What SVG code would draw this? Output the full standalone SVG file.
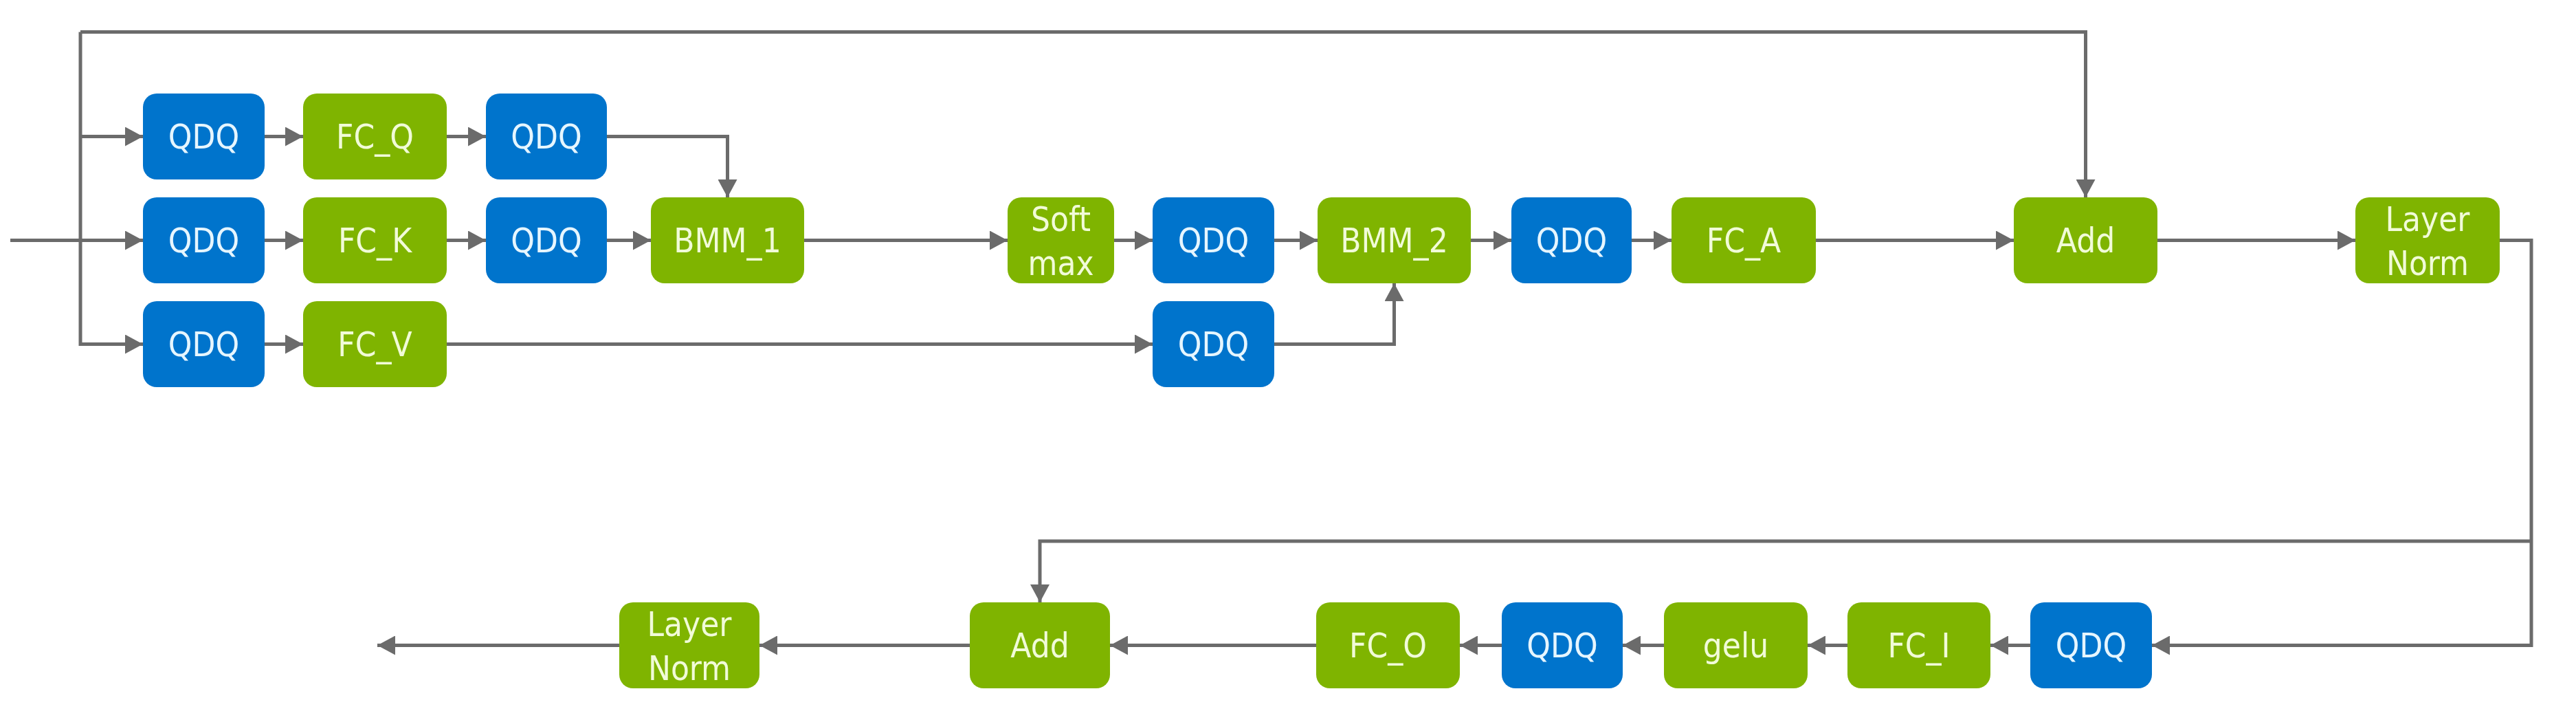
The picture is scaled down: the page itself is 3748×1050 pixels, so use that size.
<svg xmlns="http://www.w3.org/2000/svg" width="3748" height="1050" viewBox="0 0 3748 1050">
<style>
.g{fill:#7fb400}
.b{fill:#0074cc}
.t{font-family:"DejaVu Sans","Liberation Sans",sans-serif;font-size:49px;font-stretch:condensed;text-anchor:middle}
.tg{fill:#f1fbd8}
.tb{fill:#e6f6ff}
.c{fill:none;stroke:#6b6b6b;stroke-width:5}
.a{marker-end:url(#arr)}
</style>
<defs>
<marker id="arr" markerUnits="userSpaceOnUse" markerWidth="26" markerHeight="28" refX="26" refY="14" orient="auto">
<path d="M0,0 L26,14 L0,28 Z" fill="#6b6b6b"/>
</marker>
</defs>
<rect width="3748" height="1050" fill="#ffffff"/>
<g id="connectors">
<path class="c a" d="M117,46.5 H3034.5 V287"/>
<path class="c a" d="M117,46.5 V500.5 H208"/>
<path class="c a" d="M117,198.5 H208"/>
<path class="c a" d="M15,349.5 H208"/>
<path class="c a" d="M385,198.5 H441"/>
<path class="c a" d="M650,198.5 H707"/>
<path class="c a" d="M883,198.5 H1058.5 V287"/>
<path class="c a" d="M385,349.5 H441"/>
<path class="c a" d="M650,349.5 H707"/>
<path class="c a" d="M883,349.5 H947"/>
<path class="c a" d="M385,500.5 H441"/>
<path class="c a" d="M650,500.5 H1677"/>
<path class="c a" d="M1170,349.5 H1466"/>
<path class="c a" d="M1621,349.5 H1677"/>
<path class="c a" d="M1854,349.5 H1917"/>
<path class="c a" d="M1854,500.5 H2028.5 V412"/>
<path class="c a" d="M2140,349.5 H2199"/>
<path class="c a" d="M2374,349.5 H2432"/>
<path class="c a" d="M2642,349.5 H2930"/>
<path class="c a" d="M3139,349.5 H3427"/>
<path class="c a" d="M3637,349.5 H3683 V938.5 H3131"/>
<path class="c a" d="M3683,787 H1513 V876"/>
<path class="c a" d="M2954,938.5 H2896"/>
<path class="c a" d="M2688,938.5 H2630"/>
<path class="c a" d="M2421,938.5 H2361"/>
<path class="c a" d="M2185,938.5 H2124"/>
<path class="c a" d="M1915,938.5 H1615"/>
<path class="c a" d="M1411,938.5 H1105"/>
<path class="c a" d="M901,938.5 H549"/>
</g>
<g id="qdq_q_in"><rect class="b" x="208" y="136" width="177" height="125" rx="20"/><text class="t tb" x="296.5" y="216">QDQ</text></g>
<g id="fc_q"><rect class="g" x="441" y="136" width="209" height="125" rx="20"/><text class="t tg" x="545.5" y="216">FC_Q</text></g>
<g id="qdq_q_out"><rect class="b" x="707" y="136" width="176" height="125" rx="20"/><text class="t tb" x="795" y="216">QDQ</text></g>
<g id="qdq_k_in"><rect class="b" x="208" y="287" width="177" height="125" rx="20"/><text class="t tb" x="296.5" y="367">QDQ</text></g>
<g id="fc_k"><rect class="g" x="441" y="287" width="209" height="125" rx="20"/><text class="t tg" x="545.5" y="367">FC_K</text></g>
<g id="qdq_k_out"><rect class="b" x="707" y="287" width="176" height="125" rx="20"/><text class="t tb" x="795" y="367">QDQ</text></g>
<g id="bmm_1"><rect class="g" x="947" y="287" width="223" height="125" rx="20"/><text class="t tg" x="1058.5" y="367">BMM_1</text></g>
<g id="qdq_v_in"><rect class="b" x="208" y="438" width="177" height="125" rx="20"/><text class="t tb" x="296.5" y="518">QDQ</text></g>
<g id="fc_v"><rect class="g" x="441" y="438" width="209" height="125" rx="20"/><text class="t tg" x="545.5" y="518">FC_V</text></g>
<g id="softmax"><rect class="g" x="1466" y="287" width="155" height="125" rx="20"/><text class="t tg" x="1543.5" y="336">Soft</text><text class="t tg" x="1543.5" y="400">max</text></g>
<g id="qdq_softmax"><rect class="b" x="1677" y="287" width="177" height="125" rx="20"/><text class="t tb" x="1765.5" y="367">QDQ</text></g>
<g id="qdq_v_out"><rect class="b" x="1677" y="438" width="177" height="125" rx="20"/><text class="t tb" x="1765.5" y="518">QDQ</text></g>
<g id="bmm_2"><rect class="g" x="1917" y="287" width="223" height="125" rx="20"/><text class="t tg" x="2028.5" y="367">BMM_2</text></g>
<g id="qdq_bmm2"><rect class="b" x="2199" y="287" width="175" height="125" rx="20"/><text class="t tb" x="2286.5" y="367">QDQ</text></g>
<g id="fc_a"><rect class="g" x="2432" y="287" width="210" height="125" rx="20"/><text class="t tg" x="2537" y="367">FC_A</text></g>
<g id="add_1"><rect class="g" x="2930" y="287" width="209" height="125" rx="20"/><text class="t tg" x="3034.5" y="367">Add</text></g>
<g id="layernorm_1"><rect class="g" x="3427" y="287" width="210" height="125" rx="20"/><text class="t tg" x="3532" y="336">Layer</text><text class="t tg" x="3532" y="400">Norm</text></g>
<g id="qdq_ffn_in"><rect class="b" x="2954" y="876" width="177" height="125" rx="20"/><text class="t tb" x="3042.5" y="956">QDQ</text></g>
<g id="fc_i"><rect class="g" x="2688" y="876" width="208" height="125" rx="20"/><text class="t tg" x="2792" y="956">FC_I</text></g>
<g id="gelu"><rect class="g" x="2421" y="876" width="209" height="125" rx="20"/><text class="t tg" x="2525.5" y="956">gelu</text></g>
<g id="qdq_gelu"><rect class="b" x="2185" y="876" width="176" height="125" rx="20"/><text class="t tb" x="2273" y="956">QDQ</text></g>
<g id="fc_o"><rect class="g" x="1915" y="876" width="209" height="125" rx="20"/><text class="t tg" x="2019.5" y="956">FC_O</text></g>
<g id="add_2"><rect class="g" x="1411" y="876" width="204" height="125" rx="20"/><text class="t tg" x="1513" y="956">Add</text></g>
<g id="layernorm_2"><rect class="g" x="901" y="876" width="204" height="125" rx="20"/><text class="t tg" x="1003" y="925">Layer</text><text class="t tg" x="1003" y="989">Norm</text></g>
</svg>
